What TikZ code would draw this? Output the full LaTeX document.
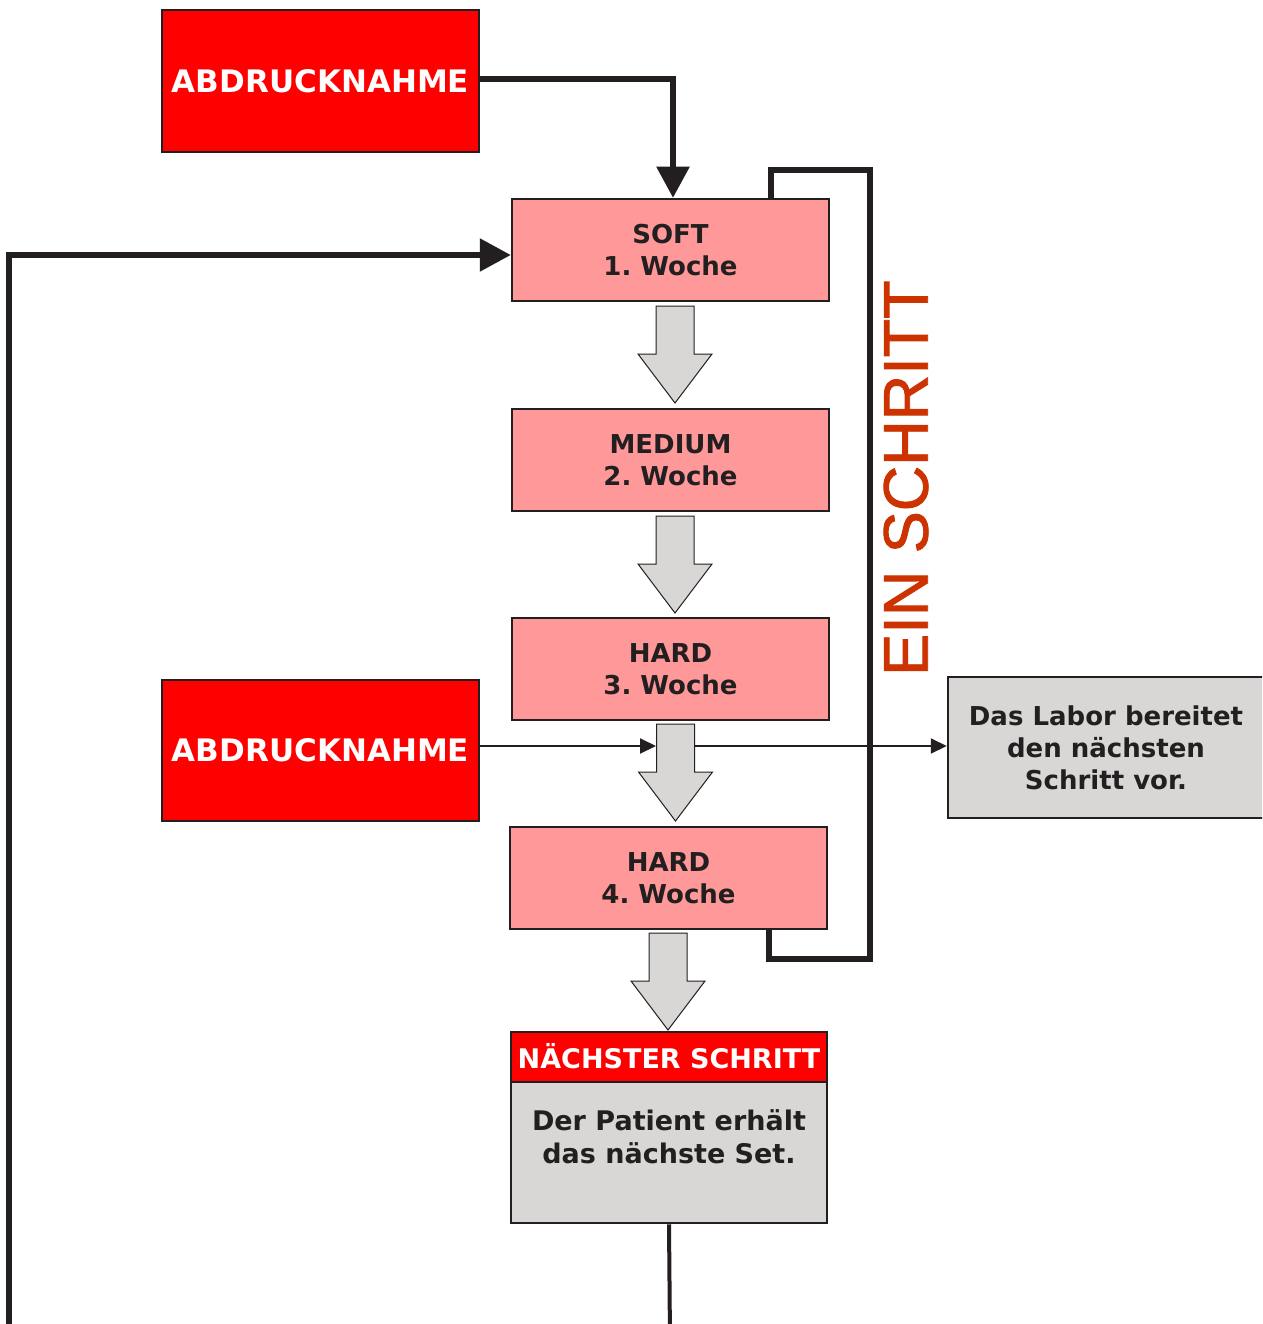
\documentclass[tikz,border=0pt]{standalone}
\usepackage{fontspec}
\setmainfont{DejaVu Sans}
\newfontfamily\arialfont[FakeBold=1.4]{Liberation Sans}
\usetikzlibrary{arrows.meta}
\definecolor{lineblk}{HTML}{231F20}
\definecolor{pinkfill}{HTML}{FF9999}
\definecolor{grayfill}{HTML}{D8D7D5}
\definecolor{redfill}{HTML}{FF0000}
\definecolor{rust}{HTML}{CC3300}
\frenchspacing
\newcommand\blockarrow[3][]{%
  \draw[blockarr] ({#2-19},#3) -- ({#2+19},#3) -- ({#2+19},{#3+48}) -- ({#2+37},{#3+48})
    -- (#2,{#3+97}) -- ({#2-37},{#3+48}) -- ({#2-19},{#3+48}) -- cycle;}
\begin{document}
\begin{tikzpicture}[x=1pt,y=-1pt,
  stage/.style={draw=lineblk, line width=2.5pt, fill=pinkfill, minimum width=317pt,
    minimum height=102pt, inner sep=0pt, align=center,
    font=\fontsize{26}{32}\selectfont\bfseries, text=lineblk},
  redbox/.style={draw=lineblk, line width=2.5pt, fill=redfill, minimum width=317pt,
    minimum height=141pt, inner sep=0pt, align=center,
    font=\fontsize{31}{36}\selectfont\bfseries, text=white},
  graybox/.style={draw=lineblk, line width=2.5pt, fill=grayfill, inner sep=0pt, align=center,
    font=\fontsize{26}{32}\selectfont\bfseries, text=lineblk},
  blockarr/.style={draw=lineblk, line width=1pt, fill=grayfill, line join=miter},
  thickline/.style={draw=lineblk, line width=5.5pt},
  bigtip/.style={-{Triangle[length=31pt,width=32pt]}},
  thinline/.style={draw=lineblk, line width=2pt, -{Triangle[length=16pt,width=15pt]}},
]
\clip (0,0) rectangle (1262,1324);
\fill[white] (0,0) rectangle (1262,1324);

% boxes
\node[redbox, minimum height=142pt] (abd1) at (320.5,81) {ABDRUCKNAHME};
\node[stage] (soft) at (670.5,250) {SOFT\\1. Woche};
\node[stage] (medium) at (670.5,460) {MEDIUM\\2. Woche};
\node[stage] (hard3) at (670.5,669) {HARD\\3. Woche};
\node[stage] (hard4) at (668.5,878) {HARD\\4. Woche};
\node[redbox] (abd2) at (320.5,750.5) {ABDRUCKNAHME};
\node[graybox, minimum width=316pt, minimum height=141pt] (labor) at (1106,747.5)
  {Das Labor bereitet\\den nächsten\\Schritt vor.};
\node[redbox, minimum width=316pt, minimum height=50pt, font=\fontsize{27}{32}\selectfont\bfseries]
  (nexthead) at (669,1057) {\raisebox{2pt}{NÄCHSTER SCHRITT}};
\node[graybox, minimum width=316pt, minimum height=141pt] (nextbody) at (669,1152.5) {};
\node[font=\fontsize{27}{33}\selectfont\bfseries, text=lineblk, align=center, inner sep=0pt]
  (nexttext) at (669,1137) {Der Patient erhält\\das nächste Set.};

% vertical label
\node[rotate=90, inner sep=0pt, text=rust, font=\arialfont\fontsize{63}{63}\selectfont]
  (einschritt) at (906,478) {EIN SCHRITT};

% block arrows
\blockarrow{675}{306}
\blockarrow{675}{516}
\blockarrow{675.5}{724}
\blockarrow{668}{933}

% top connector
\coordinate (c1) at (673,79);
\draw[thickline, bigtip] (abd1.east |- c1) -- (c1) -- (c1 |- soft.north);

% bracket
\coordinate (b1) at (771,170);
\coordinate (b2) at (870,170);
\coordinate (b3) at (870,959);
\coordinate (b4) at (769,959);
\draw[thickline] (b1 |- soft.north) -- (b1) -- (b2) -- (b3) -- (b4) -- (b4 |- hard4.south);

% loop back
\coordinate (loopbot) at (9,1340);
\coordinate (loopcorner) at (9,255);
\draw[thickline, bigtip] (loopbot) -- (loopcorner) -- (loopcorner -| soft.west);

% bottom exit
\coordinate (nextbot) at (670,1340);
\draw[thickline, line width=4pt] (nextbody.south) -- (nextbot);

% thin arrows
\coordinate (ba3w) at (656,746);
\coordinate (ba3e) at (694,746);
\draw[thinline] (abd2.east |- ba3w) -- (ba3w);
\draw[thinline] (ba3e) -- (ba3e -| labor.west);
\end{tikzpicture}
\end{document}
